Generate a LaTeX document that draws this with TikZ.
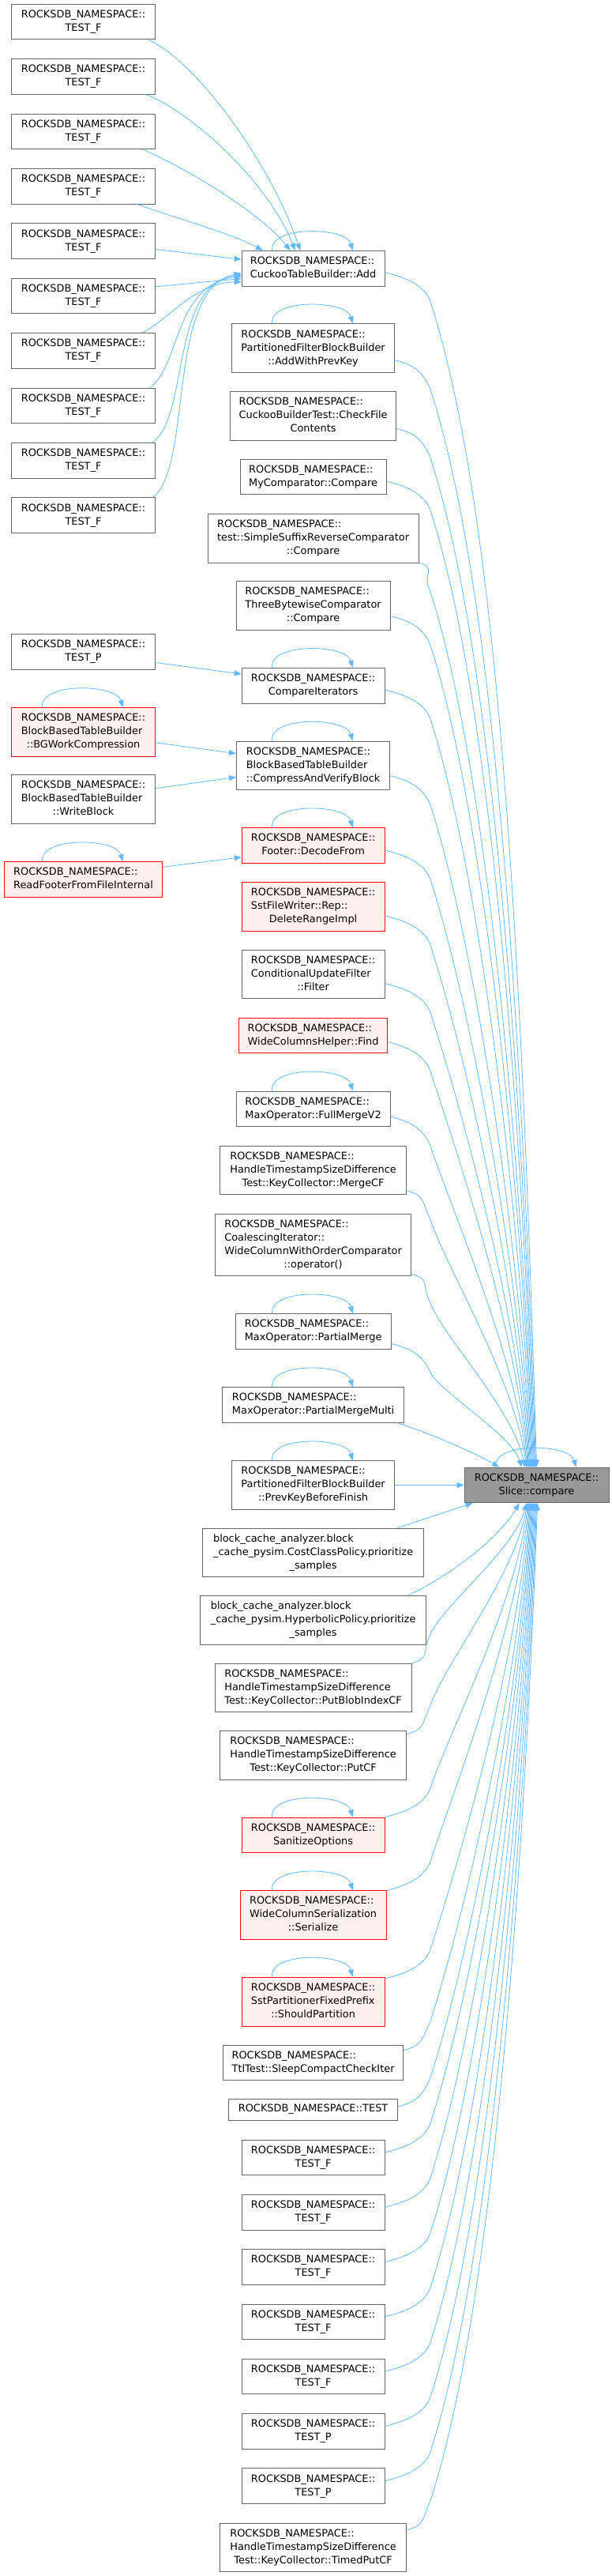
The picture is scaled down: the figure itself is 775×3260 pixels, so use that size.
\documentclass[tikz,border=0pt]{standalone}
\usepackage{fontspec}
\setmainfont{DejaVu Sans}
\usetikzlibrary{arrows.meta,calc}
\definecolor{edgec}{HTML}{63B8FF}
\definecolor{bordc}{HTML}{666666}
\definecolor{redfill}{HTML}{FFF0F0}
\definecolor{rootfill}{HTML}{999999}
\newcommand{\mylbl}[1]{\begin{tabular}{@{}l@{}}#1\end{tabular}}
\newcommand{\cln}[1]{\multicolumn{1}{@{}c@{}}{#1}}
\newcommand{\rns}{ROCKSDB\_NAMESPACE::}
\tikzset{
  box/.style={draw=bordc, fill=white, line width=0.8pt, inner sep=0pt, font=\fontsize{12.9}{17}\selectfont, align=center},
  redbox/.style={box, draw=red, fill=redfill},
  rootbox/.style={box, fill=rootfill},
  edge/.style={draw=edgec, line width=0.8pt, -{Triangle[length=9pt,width=7pt]}},
}
\newcommand{\selfloop}[1]{\draw[edge] ([xshift=-52pt]#1.north) .. controls +(-4,-32) and +(-8,-30) .. ([xshift=50pt]#1.north);}
\newcommand{\downedge}[2]{\draw[edge] let \p1=(#1), \p2=(#2), \n1={0.2*(\y1-\y2-34pt)} in (\p1) .. controls ({\x1+24pt},{\y1-6pt}) and (534pt,{\y1-14pt}) .. (544pt,{\y1-34pt}) .. controls ({544pt+0.33*\n1},{\y1-34pt-\n1}) and ({\x2-0.12*(\x2-544pt)},{\y2+0.35*(\y1-34pt-\y2)}) .. (\p2);}
\newcommand{\upedge}[2]{\draw[edge] let \p1=(#1), \p2=(#2), \n1={0.2*(\y2-\y1-34pt)} in (\p1) .. controls ({\x1+24pt},{\y1+6pt}) and (534pt,{\y1+14pt}) .. (544pt,{\y1+34pt}) .. controls ({544pt+0.33*\n1},{\y1+34pt+\n1}) and ({\x2-0.12*(\x2-544pt)},{\y2-0.35*(\y2-\y1-34pt)}) .. (\p2);}
\begin{document}
\begin{tikzpicture}[x=1pt,y=-1pt]
\fill[white] (0,0) rectangle (775,3260);

% left column
\foreach \i in {1,...,10}{
  \node[box,minimum width=181.4pt,minimum height=44.6pt] (tf\i) at (105.5,{27.5+69.4*(\i-1)}) {\mylbl{\rns\\\cln{TEST\_F}}};
}
\node[box,minimum width=181.4pt,minimum height=44.6pt] (tpl) at (105.5,825) {\mylbl{\rns\\\cln{TEST\_P}}};
\node[redbox,minimum width=181.4pt,minimum height=61.5pt] (bgw) at (105.5,926.3) {\mylbl{\rns\\BlockBasedTableBuilder\\\cln{::BGWorkCompression}}};
\node[box,minimum width=181.4pt,minimum height=61.5pt] (wrb) at (105.5,1011.5) {\mylbl{\rns\\BlockBasedTableBuilder\\\cln{::WriteBlock}}};
\node[redbox,minimum width=200.2pt,minimum height=44.6pt] (rff) at (105.5,1113) {\mylbl{\rns\\ReadFooterFromFileInternal}};

% middle column (above root)
\node[box,minimum width=181pt,minimum height=44.6pt] (add) at (396.6,339.7) {\mylbl{\rns\\CuckooTableBuilder::Add}};
\node[box,minimum width=206.4pt,minimum height=62pt] (awpk) at (396.6,440.8) {\mylbl{\rns\\PartitionedFilterBlockBuilder\\\cln{::AddWithPrevKey}}};
\node[box,minimum width=210.4pt,minimum height=61.5pt] (cfc) at (396.6,526.3) {\mylbl{\rns\\CuckooBuilderTest::CheckFile\\\cln{Contents}}};
\node[box,minimum width=185pt,minimum height=44.6pt] (myc) at (396.6,603.5) {\mylbl{\rns\\MyComparator::Compare}};
\node[box,minimum width=267pt,minimum height=61.5pt] (ssr) at (396.6,681.2) {\mylbl{\rns\\test::SimpleSuffixReverseComparator\\\cln{::Compare}}};
\node[box,minimum width=195.3pt,minimum height=62pt] (tbc) at (396.6,766) {\mylbl{\rns\\ThreeBytewiseComparator\\\cln{::Compare}}};
\node[box,minimum width=181pt,minimum height=44.6pt] (cit) at (396.6,867.6) {\mylbl{\rns\\\cln{CompareIterators}}};
\node[box,minimum width=194.5pt,minimum height=61.5pt] (cvb) at (396.6,968.8) {\mylbl{\rns\\BlockBasedTableBuilder\\::CompressAndVerifyBlock}};
\node[redbox,minimum width=181pt,minimum height=44.6pt] (dcf) at (396.6,1070) {\mylbl{\rns\\\cln{Footer::DecodeFrom}}};
\node[redbox,minimum width=181pt,minimum height=61.5pt] (dri) at (396.6,1147.5) {\mylbl{\rns\\SstFileWriter::Rep::\\\cln{DeleteRangeImpl}}};
\node[box,minimum width=181pt,minimum height=61.5pt] (cuf) at (396.6,1233) {\mylbl{\rns\\ConditionalUpdateFilter\\\cln{::Filter}}};
\node[redbox,minimum width=188.5pt,minimum height=44.6pt] (wcf) at (396.6,1310.3) {\mylbl{\rns\\WideColumnsHelper::Find}};
\node[box,minimum width=195.3pt,minimum height=44.6pt] (fmv) at (396.6,1403.2) {\mylbl{\rns\\MaxOperator::FullMergeV2}};
\node[box,minimum width=235.5pt,minimum height=61.5pt] (mcf) at (396.6,1480.8) {\mylbl{\rns\\HandleTimestampSizeDifference\\\cln{Test::KeyCollector::MergeCF}}};
\node[box,minimum width=247.7pt,minimum height=78.7pt] (opr) at (396.6,1575.3) {\mylbl{\rns\\CoalescingIterator::\\WideColumnWithOrderComparator\\\cln{::operator()}}};
\node[box,minimum width=197pt,minimum height=44.6pt] (pmg) at (396.6,1685) {\mylbl{\rns\\MaxOperator::PartialMerge}};
\node[box,minimum width=230.3pt,minimum height=44.6pt] (pmm) at (396.6,1778) {\mylbl{\rns\\MaxOperator::PartialMergeMulti}};
\node[box,minimum width=206.4pt,minimum height=61.5pt] (pkf) at (396.6,1879.5) {\mylbl{\rns\\PartitionedFilterBlockBuilder\\\cln{::PrevKeyBeforeFinish}}};

% root
\node[rootbox,minimum width=183pt,minimum height=44.8pt] (slc) at (679.5,1879.4) {\mylbl{\rns\\\cln{Slice::compare}}};

% middle column (below root)
\node[box,minimum width=280.3pt,minimum height=61.5pt] (ccp) at (396.6,1964.8) {\mylbl{block\_cache\_analyzer.block\\\_cache\_pysim.CostClassPolicy.prioritize\\\cln{\_samples}}};
\node[box,minimum width=286.4pt,minimum height=62pt] (hbp) at (396.6,2050) {\mylbl{block\_cache\_analyzer.block\\\_cache\_pysim.HyperbolicPolicy.prioritize\\\cln{\_samples}}};
\node[box,minimum width=248.6pt,minimum height=61.5pt] (pbi) at (396.6,2135.8) {\mylbl{\rns\\HandleTimestampSizeDifference\\Test::KeyCollector::PutBlobIndexCF}};
\node[box,minimum width=235.5pt,minimum height=62pt] (pcf) at (396.6,2221) {\mylbl{\rns\\HandleTimestampSizeDifference\\\cln{Test::KeyCollector::PutCF}}};
\node[redbox,minimum width=181pt,minimum height=44.6pt] (san) at (396.6,2322.3) {\mylbl{\rns\\\cln{SanitizeOptions}}};
\node[redbox,minimum width=185pt,minimum height=61.5pt] (ser) at (396.6,2423.5) {\mylbl{\rns\\WideColumnSerialization\\\cln{::Serialize}}};
\node[redbox,minimum width=181pt,minimum height=62pt] (shp) at (396.6,2533) {\mylbl{\rns\\SstPartitionerFixedPrefix\\\cln{::ShouldPartition}}};
\node[box,minimum width=228.3pt,minimum height=44.6pt] (scc) at (396.6,2610.3) {\mylbl{\rns\\TtlTest::SleepCompactCheckIter}};
\node[box,minimum width=213.7pt,minimum height=27pt] (tst) at (396.6,2669.5) {ROCKSDB\_NAMESPACE::TEST};
\foreach \i in {1,...,5}{
  \node[box,minimum width=181pt,minimum height=44.6pt] (rf\i) at (396.6,{2730.3+69.3*(\i-1)}) {\mylbl{\rns\\\cln{TEST\_F}}};
}
\node[box,minimum width=181pt,minimum height=44.6pt] (tpa) at (396.6,3076.8) {\mylbl{\rns\\\cln{TEST\_P}}};
\node[box,minimum width=181pt,minimum height=44.6pt] (tpb) at (396.6,3146.1) {\mylbl{\rns\\\cln{TEST\_P}}};
\node[box,minimum width=235.5pt,minimum height=61.5pt] (tpc) at (396.6,3223.8) {\mylbl{\rns\\HandleTimestampSizeDifference\\\cln{Test::KeyCollector::TimedPutCF}}};

% self loops
\foreach \n in {add,awpk,cit,bgw,cvb,dcf,rff,fmv,pmg,pmm,pkf,slc,san,ser,shp}{\selfloop{\n}}

% TEST_F -> Add
\draw[edge] ([xshift=-9pt]tf1.south east) .. controls (245,75) and (340,200) .. ([xshift=74.6pt]add.north west);
\draw[edge] ([xshift=-12pt]tf2.south east) .. controls (240,140) and (340,230) .. ([xshift=68pt]add.north west);
\draw[edge] ([xshift=-16pt]tf3.south east) .. controls (240,215) and (330,270) .. ([xshift=62pt]add.north west);
\draw[edge] ([xshift=-23pt]tf4.south east) .. controls (210,272) and (295,296) .. ([xshift=27pt]add.north west);
\draw[edge] ([yshift=-10.3pt]tf5.east) -- ([yshift=11.4pt]add.west);
\draw[edge] ([yshift=11.7pt]tf6.east) -- ([yshift=-12.9pt]add.west);
\draw[edge] ([xshift=-17pt]tf7.north east) .. controls (210,408) and (245,358) .. ([yshift=-17pt]add.west);
\draw[edge] ([xshift=-7pt]tf8.north east) .. controls (228,465) and (220,360) .. ([yshift=-10pt]add.west);
\draw[edge] ([xshift=-4pt]tf9.north east) .. controls (240,530) and (215,360) .. ([yshift=-8pt]add.west);
\draw[edge] ([xshift=-3pt]tf10.north east) .. controls (245,590) and (210,365) .. ([yshift=-6pt]add.west);

% left -> middle
\draw[edge] ([yshift=-13.4pt]tpl.east) -- ([yshift=14.6pt]cit.west);
\draw[edge] ([yshift=-13.4pt]bgw.east) -- ([yshift=15.2pt]cvb.west);
\draw[edge] ([yshift=13.7pt]wrb.east) -- ([yshift=-14.7pt]cvb.west);
\draw[edge] ([yshift=15.7pt]rff.east) -- ([yshift=-14.8pt]dcf.west);

% middle (above) -> root
\downedge{[yshift=-5pt]add.east}{[xshift=92pt]slc.north west}
\downedge{[yshift=-15pt]awpk.east}{[xshift=91pt]slc.north west}
\downedge{[yshift=-16pt]cfc.east}{[xshift=90pt]slc.north west}
\downedge{[yshift=-5.5pt]myc.east}{[xshift=89pt]slc.north west}
\downedge{ssr.south east}{[xshift=88pt]slc.north west}
\downedge{[yshift=-13.5pt]tbc.east}{[xshift=87pt]slc.north west}
\downedge{[yshift=-5.4pt]cit.east}{[xshift=86pt]slc.north west}
\downedge{[yshift=-13pt]cvb.east}{[xshift=85pt]slc.north west}
\downedge{[yshift=-6pt]dcf.east}{[xshift=84pt]slc.north west}
\downedge{[yshift=-11.5pt]dri.east}{[xshift=83pt]slc.north west}
\downedge{[yshift=-11.6pt]cuf.east}{[xshift=82pt]slc.north west}
\downedge{[yshift=-8.4pt]wcf.east}{[xshift=81pt]slc.north west}
\downedge{[yshift=-10pt]fmv.east}{[xshift=80pt]slc.north west}
\downedge{[yshift=-26pt]mcf.east}{[xshift=79pt]slc.north west}
\downedge{[yshift=-37pt]opr.east}{[xshift=77pt]slc.north west}
\downedge{[yshift=-15.4pt]pmg.east}{[xshift=73pt]slc.north west}
\draw[edge] ([xshift=-9pt]pmm.south east) .. controls (540,1812) and (600,1838) .. ([xshift=44.5pt]slc.north west);
\draw[edge] (pkf.east) -- (slc.west);

% middle (below) -> root
\draw[edge] ([xshift=-34pt]ccp.north east) -- ([xshift=11pt]slc.south west);
\draw[edge] ([xshift=-23.5pt]hbp.north east) .. controls (560,2000) and (630,1950) .. ([xshift=70pt]slc.south west);
\upedge{pbi.north east}{[xshift=79pt]slc.south west}
\upedge{[yshift=26.4pt]pcf.east}{[xshift=80pt]slc.south west}
\upedge{san.north east}{[xshift=81pt]slc.south west}
\upedge{ser.north east}{[xshift=82pt]slc.south west}
\upedge{[yshift=29pt]shp.east}{[xshift=83pt]slc.south west}
\upedge{[yshift=15.7pt]scc.east}{[xshift=84pt]slc.south west}
\upedge{[yshift=3.5pt]tst.east}{[xshift=85pt]slc.south west}
\upedge{[yshift=6.4pt]rf1.east}{[xshift=86pt]slc.south west}
\upedge{[yshift=6.4pt]rf2.east}{[xshift=87pt]slc.south west}
\upedge{[yshift=6.4pt]rf3.east}{[xshift=88pt]slc.south west}
\upedge{[yshift=6.4pt]rf4.east}{[xshift=89pt]slc.south west}
\upedge{[yshift=6.4pt]rf5.east}{[xshift=90pt]slc.south west}
\upedge{[yshift=6.4pt]tpa.east}{[xshift=91pt]slc.south west}
\upedge{[yshift=6.4pt]tpb.east}{[xshift=92pt]slc.south west}
\upedge{[yshift=22pt]tpc.east}{[xshift=93pt]slc.south west}
\end{tikzpicture}
\end{document}
